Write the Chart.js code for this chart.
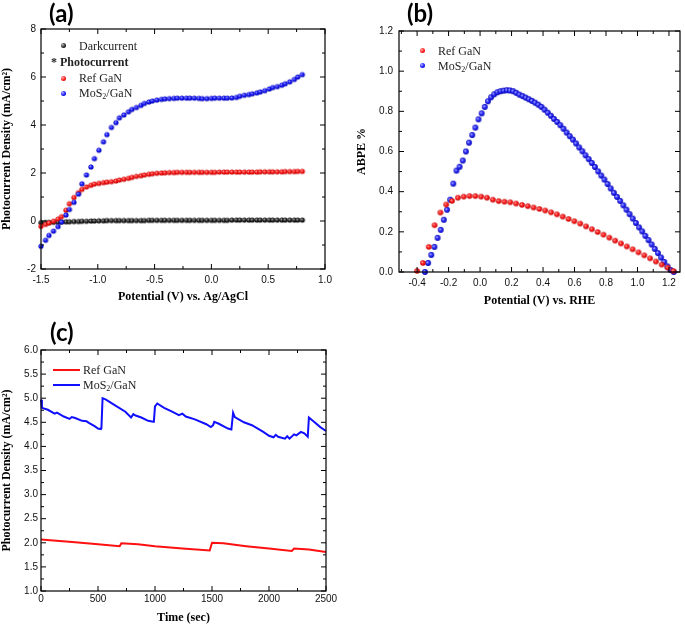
<!DOCTYPE html>
<html>
<head>
<meta charset="utf-8">
<script src="https://cdn.jsdelivr.net/npm/chart.js@4.4.1/dist/chart.umd.min.js"></script>
<style>
  body { margin: 0; background: #fff; width: 685px; height: 626px; position: relative; overflow: hidden; }
  canvas { position: absolute; }
  .panel { position: absolute; font: bold 24px Lato, "Open Sans", sans-serif; color: #000; line-height: 24px; }
  .leg { position: absolute; font: 12px "Liberation Serif", serif; color: #222; line-height: 14px; white-space: nowrap; }
  .leg sub { font-size: 8px; vertical-align: -2px; line-height: 0; }
  .dot { position: absolute; width: 5px; height: 5px; border-radius: 50%; }
  .red { background: radial-gradient(circle at 35% 35%, #ffb0b0 0%, #ff2020 50%, #c00000 100%); }
  .blue { background: radial-gradient(circle at 35% 35%, #b0b0ff 0%, #2020ff 50%, #0000b0 100%); }
  .black { background: radial-gradient(circle at 35% 35%, #bbb 0%, #333 50%, #000 100%); }
  .ln { position: absolute; height: 2px; width: 27px; }
</style>
</head>
<body>
<canvas id="chartA" width="340" height="310" style="left:0;top:0"></canvas>
<canvas id="chartB" width="345" height="310" style="left:340px;top:0"></canvas>
<canvas id="chartC" width="360" height="316" style="left:0;top:310px"></canvas>

<div class="panel" style="left:49px;top:1px">(a)</div>
<div class="panel" style="left:407px;top:1px">(b)</div>
<div class="panel" style="left:50px;top:320px">(c)</div>

<!-- legend (a) -->
<span class="dot black" style="left:61px;top:43px"></span>
<div class="leg" style="left:79px;top:39px">Darkcurrent</div>
<div class="leg" style="left:51px;top:55px;font-weight:bold">* Photocurrent</div>
<span class="dot red" style="left:61px;top:76px"></span>
<div class="leg" style="left:79px;top:71px">Ref GaN</div>
<span class="dot blue" style="left:61px;top:91px"></span>
<div class="leg" style="left:79px;top:86px">MoS<sub>2</sub>/GaN</div>

<!-- legend (b) -->
<span class="dot red" style="left:420px;top:48px"></span>
<div class="leg" style="left:438px;top:44px">Ref GaN</div>
<span class="dot blue" style="left:420px;top:63px"></span>
<div class="leg" style="left:438px;top:59px">MoS<sub>2</sub>/GaN</div>

<!-- legend (c) -->
<span class="ln" style="left:53px;top:369px;background:#ff1010"></span>
<div class="leg" style="left:83px;top:363px">Ref GaN</div>
<span class="ln" style="left:53px;top:384px;background:#1010ff"></span>
<div class="leg" style="left:83px;top:378px">MoS<sub>2</sub>/GaN</div>

<script>
// (a) J-V curves
const aPotential = [-1.50,-1.46,-1.43,-1.39,-1.35,-1.32,-1.28,-1.25,-1.21,-1.17,
  -1.14,-1.10,-1.06,-1.03,-0.99,-0.95,-0.92,-0.88,-0.84,-0.81,
  -0.77,-0.73,-0.70,-0.66,-0.62,-0.59,-0.55,-0.52,-0.48,-0.44,
  -0.41,-0.37,-0.33,-0.30,-0.26,-0.22,-0.19,-0.15,-0.11,-0.08,
  -0.04,0.00,0.03,0.07,0.11,0.14,0.18,0.22,0.25,0.29,
  0.33,0.36,0.40,0.43,0.47,0.51,0.54,0.58,0.62,0.65,
  0.69,0.73,0.76,0.80];
const aDark = [-0.07,-0.06,-0.06,-0.05,-0.05,-0.04,-0.03,-0.03,-0.02,-0.02,
  -0.01,-0.01,0,0,0.01,0.01,0.02,0.02,0.02,0.02,
  0.02,0.02,0.02,0.02,0.02,0.02,0.03,0.03,0.03,0.03,
  0.03,0.03,0.03,0.03,0.03,0.03,0.03,0.03,0.03,0.03,
  0.03,0.03,0.03,0.03,0.03,0.03,0.04,0.04,0.04,0.04,
  0.04,0.04,0.04,0.04,0.04,0.04,0.04,0.04,0.04,0.04,
  0.04,0.04,0.04,0.04];
const aRef = [-0.22,-0.14,-0.08,-0.01,0.08,0.18,0.45,0.72,0.98,1.18,
  1.32,1.42,1.49,1.54,1.57,1.6,1.62,1.64,1.67,1.71,
  1.74,1.78,1.82,1.86,1.89,1.92,1.95,1.97,1.99,2.0,
  2.01,2.02,2.02,2.03,2.03,2.03,2.03,2.03,2.03,2.03,
  2.03,2.03,2.03,2.04,2.04,2.04,2.04,2.04,2.04,2.04,
  2.04,2.04,2.04,2.05,2.05,2.05,2.05,2.05,2.05,2.06,
  2.06,2.06,2.07,2.07];
const aMoS2 = [-1.05,-0.8,-0.6,-0.42,-0.23,-0.04,0.25,0.48,0.78,1.12,
  1.55,1.92,2.25,2.6,2.95,3.3,3.6,3.9,4.1,4.3,
  4.42,4.55,4.65,4.73,4.82,4.9,4.96,5.0,5.04,5.07,
  5.09,5.1,5.11,5.12,5.12,5.12,5.12,5.12,5.11,5.1,
  5.1,5.11,5.12,5.12,5.12,5.12,5.13,5.15,5.2,5.24,
  5.27,5.3,5.34,5.38,5.43,5.5,5.56,5.6,5.66,5.72,
  5.8,5.9,6.0,6.1];
const aXTicks = [-1.5, -1.0, -0.5, 0, 0.5, 1.0];
const aYTicks = [-2, 0, 2, 4, 6, 8];

// (b) ABPE
const bPotentialRef = [-0.4,-0.363,-0.326,-0.289,-0.252,-0.215,-0.178,-0.141,-0.104,-0.067,
  -0.03,0.007,0.044,0.081,0.118,0.155,0.192,0.229,0.266,0.303,
  0.34,0.377,0.414,0.451,0.488,0.525,0.562,0.599,0.636,0.673,
  0.71,0.747,0.784,0.821,0.858,0.895,0.932,0.969,1.006,1.043,
  1.08,1.117,1.154,1.191,1.228];
const bRef = [0.005,0.045,0.125,0.233,0.296,0.336,0.354,0.37,0.375,0.378,
  0.378,0.375,0.37,0.36,0.353,0.35,0.347,0.341,0.334,0.328,
  0.321,0.314,0.306,0.297,0.287,0.276,0.264,0.253,0.241,0.227,
  0.213,0.199,0.186,0.171,0.156,0.142,0.127,0.113,0.098,0.083,
  0.068,0.052,0.037,0.022,0.005];
const bPotentialMoS2 = [-0.35,-0.33,-0.31,-0.29,-0.27,-0.25,-0.23,-0.21,-0.19,-0.17,
  -0.15,-0.13,-0.11,-0.09,-0.07,-0.05,-0.03,-0.01,0.01,0.03,
  0.05,0.07,0.09,0.11,0.13,0.15,0.17,0.19,0.21,0.23,
  0.25,0.27,0.29,0.31,0.33,0.35,0.37,0.39,0.41,0.43,
  0.45,0.47,0.49,0.51,0.53,0.55,0.57,0.59,0.61,0.63,
  0.65,0.67,0.69,0.71,0.73,0.75,0.77,0.79,0.81,0.83,
  0.85,0.87,0.89,0.91,0.93,0.95,0.97,0.99,1.01,1.03,
  1.05,1.07,1.09,1.11,1.13,1.15,1.17,1.19,1.21,1.23];
const bMoS2 = [0.0,0.045,0.085,0.125,0.17,0.21,0.26,0.31,0.36,0.44,
  0.505,0.524,0.555,0.6,0.644,0.682,0.719,0.76,0.79,0.822,
  0.85,0.87,0.885,0.895,0.9,0.903,0.905,0.904,0.9,0.892,
  0.883,0.876,0.868,0.86,0.852,0.843,0.833,0.822,0.808,0.793,
  0.778,0.762,0.747,0.731,0.713,0.694,0.676,0.659,0.64,0.62,
  0.601,0.581,0.562,0.543,0.523,0.501,0.48,0.46,0.438,0.416,
  0.394,0.374,0.354,0.332,0.31,0.288,0.266,0.244,0.222,0.202,
  0.18,0.159,0.137,0.115,0.094,0.072,0.05,0.028,0.01,0.0];
const bXTicks = [-0.4, -0.2, 0, 0.2, 0.4, 0.6, 0.8, 1.0, 1.2];
const bYTicks = [0, 0.2, 0.4, 0.6, 0.8, 1.0, 1.2];

// (c) stability
const cTimeRef = [0,300,500,690,705,850,1000,1240,1480,1500,1600,1800,2000,2200,2220,2350,2500];
const cRef = [2.07,2.01,1.97,1.93,1.99,1.97,1.93,1.88,1.84,2.0,1.99,1.93,1.88,1.83,1.88,1.86,1.81];
const cTimeMoS2 = [0,8,60,120,140,200,250,270,300,360,400,420,470,500,525,530,540,570,650,740,
  790,810,830,880,940,985,990,1000,1020,1080,1150,1210,1240,1270,1350,1450,1490,1510,1520,1560,
  1640,1670,1685,1700,1780,1850,1950,2000,2040,2060,2080,2140,2160,2180,2220,2240,2280,2310,2340,2350,
  2400,2450,2500];
const cMoS2 = [4.97,4.8,4.76,4.68,4.7,4.62,4.57,4.61,4.59,4.53,4.52,4.49,4.42,4.37,4.36,4.38,5.0,4.97,4.85,4.72,
  4.6,4.67,4.64,4.6,4.53,4.51,4.52,4.83,4.89,4.8,4.72,4.65,4.68,4.62,4.56,4.46,4.4,4.44,4.51,4.47,
  4.37,4.35,4.7,4.61,4.5,4.44,4.3,4.22,4.19,4.24,4.2,4.16,4.21,4.16,4.25,4.23,4.3,4.27,4.2,4.6,
  4.5,4.4,4.32];
const cXTicks = [0, 500, 1000, 1500, 2000, 2500];
const cYTicks = [1, 1.5, 2, 2.5, 3, 3.5, 4, 4.5, 5, 5.5, 6];

const tickFont = { family: 'Liberation Sans, Arial, sans-serif', size: 10 };
const titleFont = { family: 'Liberation Serif, Times New Roman, serif', size: 12, weight: 'bold' };

// shaded ball marker like the Origin plot
const sphere = (r, hi, mid, lo) => {
    const s = Math.ceil(r * 2) + 2;
    const c = document.createElement('canvas');
    c.width = c.height = s;
    const g = c.getContext('2d');
    const m = s / 2;
    const grad = g.createRadialGradient(m - r * 0.35, m - r * 0.35, 0, m, m, r);
    grad.addColorStop(0, hi);
    grad.addColorStop(0.5, mid);
    grad.addColorStop(1, lo);
    g.fillStyle = grad;
    g.beginPath();
    g.arc(m, m, r, 0, Math.PI * 2);
    g.fill();
    return c;
};

const pairs = (xs, ys) => xs.map((x, i) => ({ x, y: ys[i] }));

const axis = (pos, min, max, ticks, fmt, title, size, pad, titlePad) => ({
    type: 'linear', position: pos, min, max,
    afterBuildTicks: s => { s.ticks = ticks.map(value => ({ value })); },
    afterFit: s => { if (pos === 'left') s.width = size; else s.height = size; },
    grid: { display: false, drawTicks: false },
    border: { display: false },
    ticks: { autoSkip: false, maxRotation: 0, includeBounds: false, padding: pad, color: '#111', font: tickFont, callback: fmt },
    title: { display: true, text: title, color: '#000', font: titleFont, padding: titlePad }
});

// box frame with inward major + minor ticks on all four sides
const frameTicks = {
    id: 'frameTicks',
    afterDatasetsDraw(chart, args, opts) {
        const { ctx, chartArea: a, scales: { x, y } } = chart;
        ctx.save();
        ctx.strokeStyle = '#000';
        ctx.lineWidth = 1.2;
        ctx.strokeRect(a.left, a.top, a.right - a.left, a.bottom - a.top);
        ctx.lineWidth = 1;
        const marks = (scale, step) => {
            const out = [];
            for (let k = Math.ceil(scale.min / step - 1e-9); k * step <= scale.max + 1e-9; k++) {
                const v = k * step;
                const major = scale.ticks.some(t => Math.abs(t.value - v) < step / 10);
                out.push([scale.getPixelForValue(v), major ? 5 : 3]);
            }
            return out;
        };
        ctx.beginPath();
        marks(x, opts.xMinor).forEach(([px, len]) => {
            ctx.moveTo(px, a.bottom); ctx.lineTo(px, a.bottom - len);
            ctx.moveTo(px, a.top); ctx.lineTo(px, a.top + len);
        });
        marks(y, opts.yMinor).forEach(([py, len]) => {
            ctx.moveTo(a.left, py); ctx.lineTo(a.left + len, py);
            ctx.moveTo(a.right, py); ctx.lineTo(a.right - len, py);
        });
        ctx.stroke();
        ctx.restore();
    }
};

const baseOptions = (padding, scales, minor) => ({
    responsive: false,
    animation: false,
    events: [],
    layout: { padding },
    scales,
    plugins: { legend: { display: false }, tooltip: { enabled: false }, frameTicks: minor }
});

document.addEventListener('DOMContentLoaded', () => {
    const ballRedA = sphere(2.6, '#ffb8b8', '#ff2020', '#c00000');
    const ballBlueA = sphere(2.6, '#b8b8ff', '#2020ff', '#0000b0');
    const ballBlackA = sphere(2.6, '#c8c8c8', '#333', '#000');
    const ballRedB = sphere(2.8, '#ffb8b8', '#ff2020', '#c00000');
    const ballBlueB = sphere(2.9, '#d0d0ff', '#3030ff', '#0000b0');

    const dots = (label, data, img, order) => ({ label, data, pointStyle: img, pointRadius: 3, showLine: false, clip: false, order });

    new Chart(document.getElementById('chartA'), {
        type: 'scatter',
        data: { datasets: [
            dots('Darkcurrent', pairs(aPotential, aDark), ballBlackA, 3),
            dots('Ref GaN', pairs(aPotential, aRef), ballRedA, 2),
            dots('MoS2/GaN', pairs(aPotential, aMoS2), ballBlueA, 1)
        ] },
        options: baseOptions({ left: 0, top: 29, right: 15, bottom: 0 }, {
            x: axis('bottom', -1.5, 1.0, aXTicks, v => v.toFixed(1), 'Potential (V) vs. Ag/AgCl', 41, 5, { top: 0, bottom: 5.8 }),
            y: axis('left', -2, 8, aYTicks, v => String(v), 'Photocurrent Density (mA/cm²)', 41, 5, { top: 0, bottom: 0 })
        }, { xMinor: 0.25, yMinor: 1 }),
        plugins: [frameTicks]
    });

    new Chart(document.getElementById('chartB'), {
        type: 'scatter',
        data: { datasets: [
            dots('Ref GaN', pairs(bPotentialRef, bRef), ballRedB, 1),
            dots('MoS2/GaN', pairs(bPotentialMoS2, bMoS2), ballBlueB, 2)
        ] },
        options: baseOptions({ left: 0, top: 31, right: 5, bottom: 0 }, {
            x: axis('bottom', -0.515, 1.27, bXTicks, v => v.toFixed(1), 'Potential (V) vs. RHE', 38, 5, { top: 0, bottom: 1.8 }),
            y: axis('left', 0, 1.2, bYTicks, v => v.toFixed(1), 'ABPE %', 59, 6, { top: 14.8, bottom: 0 })
        }, { xMinor: 0.1, yMinor: 0.1 }),
        plugins: [frameTicks]
    });

    const line = (label, data, color) => ({ label, data, showLine: true, borderColor: color, borderWidth: 2, pointRadius: 0, tension: 0, clip: false });

    new Chart(document.getElementById('chartC'), {
        type: 'scatter',
        data: { datasets: [
            line('Ref GaN', pairs(cTimeRef, cRef), '#ff1010'),
            line('MoS2/GaN', pairs(cTimeMoS2, cMoS2), '#1010ff')
        ] },
        options: baseOptions({ left: 0, top: 40, right: 34, bottom: 0 }, {
            x: axis('bottom', 0, 2500, cXTicks, v => String(v), 'Time (sec)', 35, 2, { top: 0, bottom: 0.8 }),
            y: axis('left', 1, 6, cYTicks, v => v.toFixed(1), 'Photocurrent Density (mA/cm²)', 41, 3, { top: 0, bottom: 0 })
        }, { xMinor: 250, yMinor: 0.25 }),
        plugins: [frameTicks]
    });
});
</script>
</body>
</html>
